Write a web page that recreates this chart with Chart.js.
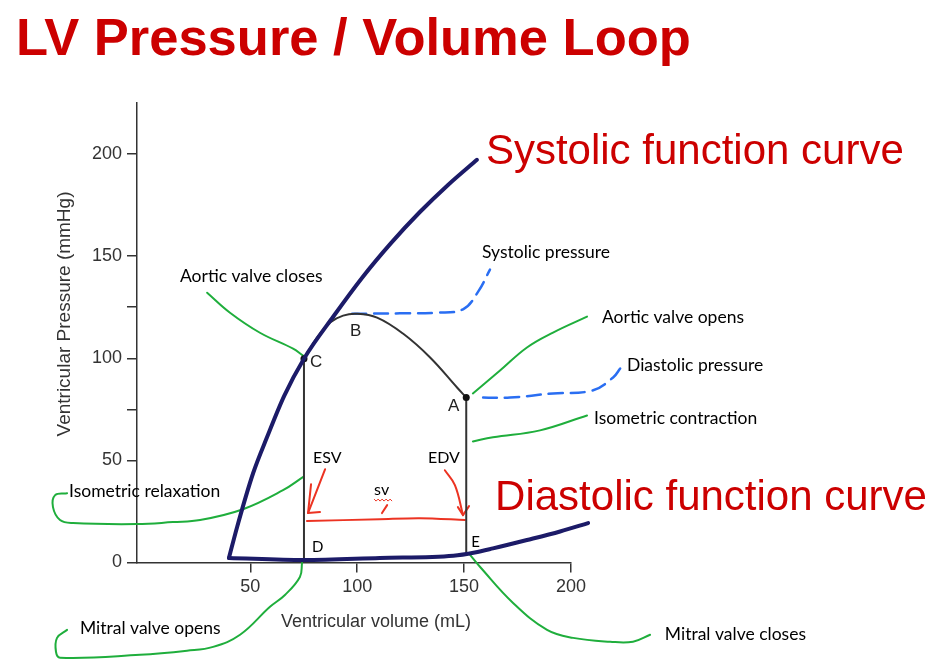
<!DOCTYPE html>
<html>
<head>
<meta charset="utf-8">
<title>LV Pressure / Volume Loop</title>
<script src="https://cdn.jsdelivr.net/npm/chart.js@4.4.1/dist/chart.umd.min.js"></script>
<style>
    html, body { margin: 0; padding: 0; background: #fff; }
    #wrap { width: 940px; height: 671px; position: relative; }
</style>
</head>
<body>
<div id="wrap"><canvas id="myChart"></canvas></div>
<script>
// ticks
var xTicks = [50, 100, 150, 200];
var yTicks = [0, 50, 75, 100, 125, 150, 200];

// curves, [volume mL, pressure mmHg]
var systolicCurve = [[40.0, 2.2], [43.8, 17.3], [51.3, 43.7], [57.8, 61.3], [65.8, 81.5], [75.1, 99.8],
    [89.0, 120.7], [102.4, 139.6], [115.8, 156.4], [129.2, 171.5], [142.6, 185.0], [156.0, 197.2]];
var diastolicCurve = [[40.0, 2.2], [75.1, 1.2], [110.6, 2.2], [145.0, 3.3], [155.0, 4.9], [163.5, 6.9],
    [179.4, 11.0], [194.9, 15.2], [208.0, 19.3]];
var loopTop = [[151.0, 80.8], [146.7, 85.7], [134.1, 100.4], [121.4, 112.1], [109.3, 119.9], [99.9, 121.8],
    [93.4, 120.9], [87.3, 117.5], [81.2, 110.1], [75.1, 99.8]];
var loopLeft = [[75.1, 99.8], [75.1, 1.2]];
var loopRight = [[151.0, 80.8], [151.0, 3.7]];
var loopDots = [[75.1, 99.8], [151.0, 80.8]];

// hand drawn pointers (listed from the label end where they run past the axis)
var systolicPressureLine = [[97.6, 121.8], [120.0, 122.0], [137.3, 122.3], [149.5, 124.0], [156.5, 132.5], [162.1, 143.4]];
var diastolicPressureLine = [[223.0, 95.0], [219.7, 90.6], [209.9, 84.2], [191.6, 82.8], [171.5, 80.8], [155.6, 80.8]];
var aorticClosesLine = [[29.8, 132.1], [40.5, 122.3], [54.5, 112.5], [70.0, 104.7], [74.7, 101.3]];
var aorticOpensLine = [[207.5, 120.4], [191.6, 112.6], [179.4, 105.3], [166.8, 94.0], [154.1, 82.8]];
var isoContractionLine = [[207.5, 72.0], [185.5, 64.7], [163.5, 61.3], [154.1, 59.3]];
var isoRelaxationLine = [[74.6, 41.8], [65.3, 35.4], [46.6, 26.1], [26.5, 20.8], [13.8, 19.8], [-3.0, 18.8],
    [-32.9, 19.3], [-39.0, 20.8], [-42.3, 27.1], [-41.3, 33.0], [-35.7, 33.9]];
var mitralOpensLine = [[74.2, -0.2], [73.2, -7.1], [66.2, -15.9], [59.2, -21.7], [45.2, -35.4], [32.6, -41.3],
    [20.4, -43.2], [-1.6, -45.2], [-39.0, -46.6], [-40.9, -43.7], [-40.4, -36.9], [-35.7, -33.0]];
var mitralClosesLine = [[237.0, -35.4], [229.0, -38.8], [218.3, -38.8], [201.0, -36.9], [188.8, -33.0],
    [172.9, -19.8], [157.5, -2.2], [152.8, 3.7]];

// red stroke volume marks
var svLine = [[76.5, 20.3], [110.6, 21.2], [129.3, 21.7], [150.4, 20.8]];
var esvShaft = [[85.0, 45.7], [77.0, 24.2]];
var esvHead = [[78.4, 38.3], [77.0, 24.2], [82.6, 24.7]];
var edvShaft = [[141.0, 45.2], [145.7, 37.9], [149.5, 23.2]];
var edvHead = [[147.1, 27.1], [149.5, 23.2], [152.3, 27.6]];
var svTick = [[111.6, 24.2], [114.0, 28.1]];

// texts
var titleText = 'LV Pressure / Volume Loop';
var xTitle = 'Ventricular volume (mL)';
var yTitle = 'Ventricular Pressure (mmHg)';
var notes = [['Aortic valve closes', 17.1, 137.5], ['Systolic pressure', 158.4, 149.2],
    ['Aortic valve opens', 214.5, 117.5], ['Diastolic pressure', 226.2, 94.0],
    ['Isometric contraction', 210.8, 67.6], ['Isometric relaxation', -34.8, 32.0],
    ['Mitral valve opens', -29.7, -34.9], ['Mitral valve closes', 243.9, -37.9]];
var pointNames = [['A', 142.5, 74.0], ['B', 96.6, 111.1], ['C', 77.9, 95.5]];
var pointNames2 = [['D', 78.9, 5.1], ['E', 153.3, 7.6]];
var volumeNames = [['ESV', 79.3, 48.6], ['EDV', 133.1, 48.6], ['sv', 107.9, 33.0]];
var curveNames = [['Systolic function curve', 160.2, 195.1], ['Diastolic function curve', 164.5, 25.6]];

var navy = '#1c1b68';
var green = '#1fae3c';
var blue = '#2a6ef2';
var red = '#ec3322';
var darkRed = '#cc0000';

function pts(arr) {
    return arr.map(function (p) { return { x: p[0], y: p[1] }; });
}

function curve(data, color, width, tension, dash) {
    return {
        data: pts(data),
        borderColor: color,
        borderWidth: width,
        pointRadius: 0,
        tension: tension,
        borderDash: dash || [],
        borderCapStyle: 'round',
        borderJoinStyle: 'round',
        fill: false,
        clip: false
    };
}

var textPlugin = {
    id: 'textPlugin',
    afterDraw: function (chart) {
        var ctx = chart.ctx;
        var xs = chart.scales.x, ys = chart.scales.y;
        function put(list, font, color) {
            ctx.font = font;
            ctx.fillStyle = color;
            list.forEach(function (t) {
                ctx.fillText(t[0], xs.getPixelForValue(t[1]), ys.getPixelForValue(t[2]));
            });
        }
        ctx.save();
        ctx.textAlign = 'left';
        ctx.textBaseline = 'alphabetic';

        ctx.font = 'bold 52.5px "Liberation Sans"';
        ctx.fillStyle = darkRed;
        ctx.fillText(titleText, 16, 55);

        put(curveNames, '42px "Liberation Sans"', darkRed);
        put(notes, '17.5px Lato', '#000');
        put(pointNames, '17px "Liberation Sans"', '#222');
        put(pointNames2, '15px Lato', '#000');
        put(volumeNames, '16px Lato', '#000');

        // squiggle under sv
        var sx = xs.getPixelForValue(volumeNames[2][1]);
        var sy = ys.getPixelForValue(volumeNames[2][2]) + 4;
        ctx.strokeStyle = red;
        ctx.lineWidth = 1;
        ctx.beginPath();
        for (var i = 0; i <= 9; i++) {
            var px = sx + i * 2;
            var py = sy + (i % 2 === 0 ? 0 : 2);
            if (i === 0) ctx.moveTo(px, py); else ctx.lineTo(px, py);
        }
        ctx.stroke();

        // axis titles
        ctx.fillStyle = '#333';
        ctx.font = '18px "Liberation Sans"';
        ctx.textAlign = 'center';
        ctx.fillText(xTitle, 376, 627);
        ctx.translate(70, 314);
        ctx.rotate(-Math.PI / 2);
        ctx.font = '19px "Liberation Sans"';
        ctx.fillText(yTitle, 0, 0);
        ctx.restore();
    }
};

var systolicSet = curve(systolicCurve, navy, 4, 0);
systolicSet.cubicInterpolationMode = 'monotone';
var diastolicSet = curve(diastolicCurve, navy, 4, 0);
diastolicSet.cubicInterpolationMode = 'monotone';

var datasets = [
    systolicSet,
    diastolicSet,
    {
        data: pts(loopDots), showLine: false, pointRadius: 3.5, pointBackgroundColor: '#111',
        pointBorderWidth: 0, clip: false
    },
    curve(loopTop, '#333', 2, 0.4),
    curve(loopLeft, '#333', 2, 0),
    curve(loopRight, '#333', 2, 0),
    curve(systolicPressureLine, blue, 2.5, 0.4, [14, 8]),
    curve(diastolicPressureLine, blue, 2.5, 0.4, [14, 8]),
    curve(aorticClosesLine, green, 2, 0.4),
    curve(aorticOpensLine, green, 2, 0.4),
    curve(isoContractionLine, green, 2, 0.4),
    curve(isoRelaxationLine, green, 2, 0.4),
    curve(mitralOpensLine, green, 2, 0.4),
    curve(mitralClosesLine, green, 2, 0.4),
    curve(svLine, red, 2, 0.3),
    curve(esvShaft, red, 2, 0),
    curve(esvHead, red, 2, 0),
    curve(edvShaft, red, 2, 0.4),
    curve(edvHead, red, 2, 0),
    curve(svTick, red, 2, 0)
];

Chart.defaults.font.family = '"Liberation Sans"';

var ctx = document.getElementById('myChart').getContext('2d');
var myChart = new Chart(ctx, {
    type: 'line',
    data: { datasets: datasets },
    plugins: [textPlugin],
    options: {
        responsive: true,
        maintainAspectRatio: false,
        animation: false,
        layout: { padding: { top: 103, right: 369, left: 0, bottom: 0 } },
        plugins: {
            legend: { display: false },
            tooltip: { enabled: false },
            title: { display: false }
        },
        scales: {
            x: {
                type: 'linear',
                min: -3,
                max: 200,
                afterFit: function (scale) { scale.height = 108.5; },
                afterBuildTicks: function (scale) {
                    scale.ticks = xTicks.map(function (v) { return { value: v }; });
                },
                grid: { drawOnChartArea: false, drawTicks: true, tickLength: 10, color: '#333', lineWidth: 1.5 },
                border: { color: '#333', width: 1.5 },
                ticks: { padding: 4, color: '#333', font: { size: 18 }, maxRotation: 0, autoSkip: false }
            },
            y: {
                type: 'linear',
                min: 0,
                max: 225,
                afterFit: function (scale) { scale.width = 137; },
                afterBuildTicks: function (scale) {
                    scale.ticks = yTicks.map(function (v) { return { value: v }; });
                },
                grid: { drawOnChartArea: false, drawTicks: true, tickLength: 10, color: '#333', lineWidth: 1.5 },
                border: { color: '#333', width: 1.5 },
                ticks: {
                    padding: 5, color: '#333', font: { size: 18 }, autoSkip: false,
                    callback: function (value) { return value % 50 === 0 ? value : ''; }
                }
            }
        }
    }
});
</script>
</body>
</html>
